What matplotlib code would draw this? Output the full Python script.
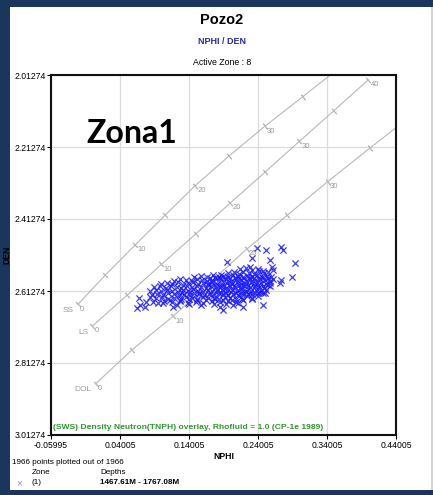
import numpy as np
import matplotlib
matplotlib.use("Agg")
import matplotlib.pyplot as plt
from matplotlib.patches import Rectangle

plt.rcParams['font.family'] = ['Liberation Sans', 'DejaVu Sans']

W, H = 433, 495

# axis ticks (grid)
X_TICKS = [-0.05995, 0.04005, 0.14005, 0.24005, 0.34005, 0.44005]
Y_TICKS = [2.01274, 2.21274, 2.41274, 2.61274, 2.81274, 3.01274]

# lithology overlay lines (porosity 0..40 pu, every 5 pu)
PHI = [0, 5, 10, 15, 20, 25, 30, 35, 40]
SS_NPHI = [-0.021, 0.019, 0.062, 0.105, 0.149, 0.198, 0.250, 0.305, 0.360]
SS_DEN = [2.650, 2.568, 2.485, 2.403, 2.320, 2.238, 2.155, 2.073, 1.990]
LS_NPHI = [0.000, 0.050, 0.100, 0.150, 0.200, 0.250, 0.300, 0.350, 0.400]
LS_DEN = [2.710, 2.625, 2.539, 2.454, 2.368, 2.283, 2.197, 2.112, 2.026]
DOL_NPHI = [0.005, 0.057, 0.117, 0.170, 0.224, 0.282, 0.341, 0.402, 0.465]
DOL_DEN = [2.870, 2.777, 2.683, 2.590, 2.496, 2.403, 2.309, 2.216, 2.122]

# zone 1 points (main cloud, row by row)
CLOUD_NPHI = [
    0.214, 0.222, 0.231, 0.240, 0.247, 0.228,
    0.196, 0.205, 0.212, 0.219, 0.227, 0.234, 0.241, 0.249, 0.255, 0.186,
    0.148, 0.158, 0.166, 0.175, 0.183, 0.190, 0.197, 0.204, 0.211, 0.218, 0.225, 0.232, 0.239, 0.246, 0.253, 0.259,
    0.118, 0.127, 0.136, 0.144, 0.152, 0.159, 0.166, 0.173, 0.180, 0.187, 0.194, 0.201, 0.208, 0.215, 0.222, 0.229,
    0.236, 0.243, 0.250, 0.257, 0.262,
    0.100, 0.108, 0.116, 0.124, 0.131, 0.139, 0.146, 0.153, 0.160, 0.167, 0.174, 0.181, 0.188, 0.195, 0.202, 0.209,
    0.216, 0.223, 0.230, 0.237, 0.244, 0.251, 0.258,
    0.090, 0.098, 0.106, 0.114, 0.122, 0.129, 0.137, 0.144, 0.151, 0.158, 0.165, 0.172, 0.179, 0.186, 0.193, 0.200,
    0.207, 0.214, 0.221, 0.228, 0.235, 0.242, 0.249, 0.257,
    0.084, 0.092, 0.100, 0.108, 0.116, 0.124, 0.131, 0.139, 0.146, 0.153, 0.160, 0.167, 0.174, 0.181, 0.188, 0.195,
    0.202, 0.209, 0.216, 0.223, 0.230, 0.237, 0.244, 0.252,
    0.086, 0.094, 0.102, 0.110, 0.118, 0.126, 0.133, 0.141, 0.148, 0.155, 0.162, 0.169, 0.176, 0.183, 0.190, 0.197,
    0.204, 0.211, 0.218, 0.225, 0.232, 0.240, 0.247,
    0.092, 0.101, 0.110, 0.119, 0.128, 0.136, 0.144, 0.152, 0.160, 0.168, 0.176, 0.184, 0.192, 0.200, 0.208, 0.216,
    0.224, 0.232, 0.240,
    0.104, 0.115, 0.127, 0.139, 0.150, 0.161, 0.173, 0.185, 0.196, 0.208, 0.219,
    0.122, 0.140, 0.158, 0.176, 0.194, 0.211,
]
CLOUD_DEN = [
    2.553, 2.549, 2.555, 2.551, 2.556, 2.545,
    2.563, 2.560, 2.565, 2.559, 2.562, 2.566, 2.558, 2.563, 2.561, 2.567,
    2.574, 2.571, 2.575, 2.569, 2.573, 2.570, 2.574, 2.568, 2.572, 2.575, 2.570, 2.573, 2.569, 2.574, 2.571, 2.573,
    2.584, 2.580, 2.583, 2.586, 2.579, 2.582, 2.585, 2.581, 2.578, 2.583, 2.580, 2.584, 2.579, 2.582, 2.585, 2.580,
    2.583, 2.579, 2.582, 2.584, 2.580,
    2.594, 2.590, 2.593, 2.589, 2.595, 2.591, 2.588, 2.593, 2.590, 2.594, 2.589, 2.592, 2.595, 2.590, 2.593, 2.588,
    2.592, 2.594, 2.589, 2.593, 2.591, 2.594, 2.590,
    2.603, 2.600, 2.604, 2.599, 2.602, 2.605, 2.600, 2.603, 2.598, 2.602, 2.605, 2.599, 2.603, 2.600, 2.604, 2.598,
    2.602, 2.605, 2.600, 2.603, 2.599, 2.601, 2.604, 2.600,
    2.613, 2.610, 2.614, 2.609, 2.612, 2.615, 2.610, 2.613, 2.608, 2.612, 2.615, 2.610, 2.613, 2.609, 2.611, 2.614,
    2.610, 2.613, 2.608, 2.612, 2.614, 2.610, 2.612, 2.609,
    2.623, 2.620, 2.624, 2.619, 2.622, 2.625, 2.620, 2.623, 2.618, 2.622, 2.625, 2.620, 2.623, 2.619, 2.621, 2.624,
    2.620, 2.623, 2.618, 2.622, 2.621, 2.619, 2.617,
    2.633, 2.630, 2.635, 2.631, 2.634, 2.629, 2.633, 2.636, 2.630, 2.633, 2.631, 2.635, 2.629, 2.632, 2.634, 2.630,
    2.628, 2.631, 2.627,
    2.641, 2.644, 2.640, 2.645, 2.642, 2.646, 2.641, 2.644, 2.640, 2.643, 2.639,
    2.651, 2.648, 2.652, 2.649, 2.650, 2.647,
]
# denser core on the right side of the cloud
CORE_NPHI = [0.170, 0.178, 0.185, 0.192, 0.199, 0.206, 0.213, 0.220, 0.227, 0.234, 0.241, 0.248, 0.254,
             0.168, 0.176, 0.184, 0.191, 0.198, 0.205, 0.212, 0.219, 0.226, 0.233, 0.240, 0.247, 0.254,
             0.130, 0.142, 0.155, 0.171, 0.179, 0.187, 0.194, 0.201, 0.208, 0.215, 0.222, 0.229, 0.236, 0.243, 0.250,
             0.112, 0.127, 0.140, 0.152, 0.165, 0.178, 0.190, 0.203, 0.217, 0.231]
CORE_DEN = [2.577, 2.576, 2.578, 2.577, 2.576, 2.578, 2.577, 2.576, 2.578, 2.577, 2.576, 2.578, 2.577,
            2.597, 2.596, 2.598, 2.597, 2.596, 2.598, 2.597, 2.596, 2.598, 2.597, 2.596, 2.598, 2.597,
            2.617, 2.616, 2.618, 2.617, 2.616, 2.618, 2.617, 2.616, 2.618, 2.617, 2.616, 2.618, 2.617, 2.616, 2.618,
            2.637, 2.638, 2.636, 2.637, 2.638, 2.636, 2.637, 2.638, 2.636, 2.635]
# scattered points around the cloud
OUT_NPHI = [0.064, 0.069, 0.076, 0.068, 0.078, 0.088, 0.083, 0.095, 0.117, 0.102, 0.195, 0.231, 0.238, 0.252,
            0.274, 0.277, 0.257, 0.260, 0.262, 0.294, 0.289, 0.274, 0.272, 0.248, 0.219, 0.204, 0.185, 0.190]
OUT_DEN = [2.661, 2.652, 2.656, 2.633, 2.642, 2.642, 2.629, 2.647, 2.656, 2.646, 2.531, 2.522, 2.494, 2.499,
           2.490, 2.499, 2.527, 2.545, 2.554, 2.536, 2.573, 2.582, 2.591, 2.652, 2.656, 2.652, 2.656, 2.666]

NAVY = '#1b365d'
LINE_GRAY = '#b8b8b8'
LABEL_GRAY = '#9a9a9a'
PT_BLUE = '#1a1aff'


def fx(px):
    return px / W


def fy(py):
    return 1 - py / H


fig = plt.figure(figsize=(W / 100, H / 100), dpi=100)
fig.patch.set_facecolor(NAVY)
fig.add_artist(Rectangle((fx(10), fy(490)), (431 - 10) / W, (490 - 7) / H,
                         transform=fig.transFigure, facecolor='white', edgecolor='none', zorder=0))
fig.add_artist(Rectangle((fx(431), fy(490)), 2 / W, (490 - 7) / H,
                         transform=fig.transFigure, facecolor='#d4d4d4', edgecolor='none', zorder=0))

ax = fig.add_axes([fx(51), fy(435), 345 / W, 360 / H])
ax.set_xlim(X_TICKS[0], X_TICKS[-1])
ax.set_ylim(Y_TICKS[-1], Y_TICKS[0])
ax.set_xticks(X_TICKS)
ax.set_yticks(Y_TICKS)
ax.set_xticklabels([f"{v:.5f}" for v in X_TICKS])
ax.set_yticklabels([f"{v:.5f}" for v in Y_TICKS])
ax.tick_params(length=3, width=0.8, pad=1, labelsize=6.2)
ax.grid(True, color='#dcdcdc', lw=0.9)
ax.set_axisbelow(True)
for sp in ax.spines.values():
    sp.set_linewidth(1.5)
    sp.set_color('#111111')
ax.set_xlabel('NPHI', fontsize=6.2, fontweight='bold', labelpad=2)
ax.set_ylabel('DEN', fontsize=6.2, fontweight='bold', labelpad=2)

# lithology lines with porosity ticks
liths = [('SS', SS_NPHI, SS_DEN), ('LS', LS_NPHI, LS_DEN), ('DOL', DOL_NPHI, DOL_DEN)]
for name, xs, ys in liths:
    ax.plot(xs, ys, color=LINE_GRAY, lw=0.8, zorder=2)
    pts = ax.transData.transform(np.column_stack([xs, ys]))
    for i, (x, y) in enumerate(zip(xs, ys)):
        if not (X_TICKS[0] <= x <= X_TICKS[-1] and Y_TICKS[0] <= y <= Y_TICKS[-1]):
            continue
        j0, j1 = (i, i + 1) if i + 1 < len(xs) else (i - 1, i)
        d = pts[j1] - pts[j0]
        ang = np.degrees(np.arctan2(d[1], d[0]))
        ax.plot([x], [y], marker=(2, 2, ang), ms=5, mew=0.7, color=LINE_GRAY, zorder=2)
        if PHI[i] % 10 == 0:
            ax.annotate(str(PHI[i]), (x, y), xytext=(1.5, -3.5), textcoords='offset points',
                        fontsize=5.5, color=LABEL_GRAY, ha='left', va='center')
    ax.annotate(name, (xs[0], ys[0]), xytext=(-3, -4.5), textcoords='offset points',
                fontsize=6, color=LABEL_GRAY, ha='right', va='center')

ax.scatter(CLOUD_NPHI + CORE_NPHI + OUT_NPHI, CLOUD_DEN + CORE_DEN + OUT_DEN, marker='x', s=20, lw=0.9,
           color=PT_BLUE, alpha=0.85, zorder=3)

ax.text(0.006, 0.022, '(SWS) Density Neutron(TNPH) overlay, Rhofluid = 1.0 (CP-1e 1989)',
        transform=ax.transAxes, fontsize=6.1, color='#2e9a2e', fontweight='bold',
        ha='left', va='center')

# big zone annotation
fig.text(fx(86), fy(143), 'Zona1', fontsize=23, fontweight='bold', family='Lato',
         ha='left', va='baseline', color='black')

# headers
fig.text(fx(222), fy(20), 'Pozo2', fontsize=10.5, fontweight='bold', ha='center', va='center')
fig.text(fx(222), fy(41), 'NPHI / DEN', fontsize=6.5, fontweight='bold', color='#2a2aa8',
         ha='center', va='center')
fig.text(fx(222), fy(63), 'Active Zone : 8', fontsize=6.3, ha='center', va='center')

# footer legend
fig.text(fx(12), fy(463), '1966 points plotted out of 1966', fontsize=5.9, ha='left', va='center')
fig.text(fx(32), fy(473), 'Zone', fontsize=5.9, ha='left', va='center')
fig.text(fx(100), fy(473), 'Depths', fontsize=5.9, ha='left', va='center')
fig.text(fx(19), fy(483), '×', fontsize=7, color='#9090e8', ha='center', va='center')
fig.text(fx(32), fy(483), '(1)', fontsize=5.9, ha='left', va='center')
fig.text(fx(100), fy(483), '1467.61M - 1767.08M', fontsize=5.9, fontweight='bold', ha='left', va='center')

fig.savefig('out.png', dpi=100, facecolor=fig.get_facecolor())
